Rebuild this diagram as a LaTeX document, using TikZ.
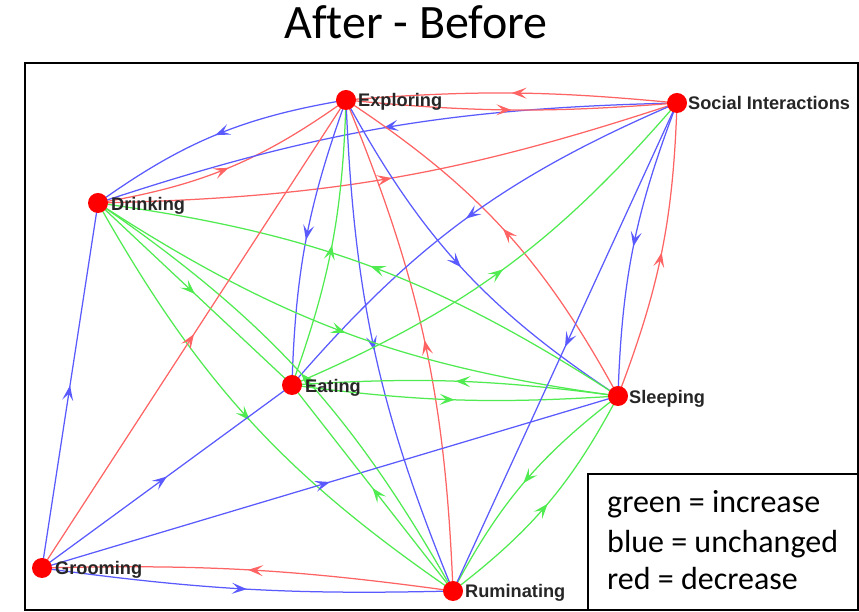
\documentclass[tikz,border=0pt]{standalone}
\usepackage{fontspec}
\setmainfont{Carlito}[Ligatures=NoCommon]
\newfontfamily\labfont{Liberation Sans}
\usetikzlibrary{arrows.meta,decorations.markings,backgrounds}
\definecolor{er}{RGB}{255,100,100}
\definecolor{eb}{RGB}{90,90,255}
\definecolor{eg}{RGB}{80,235,80}
\tikzset{
  edge/.style={line width=1.25pt, postaction={decorate},
    decoration={markings, mark=at position 0.5 with {\arrow{Stealth[length=15pt,width=11pt,inset=6.5pt]}}}},
  R/.style={edge, er},
  B/.style={edge, eb},
  G/.style={edge, eg},
  dot/.style={circle, fill=red, draw=none, inner sep=0pt, minimum size=20pt},
  lbl/.style={font=\labfont\bfseries\fontsize{18.2}{20}\selectfont, text=black!85, anchor=base west, inner sep=0pt},
  leg/.style={font=\fontsize{32}{38}\selectfont, anchor=base west, inner sep=0pt}
}
\begin{document}
\begin{tikzpicture}[x=1pt,y=1pt]
\useasboundingbox (0,0) rectangle (859,612);
\node[font=\fontsize{48}{56}\selectfont, anchor=base, inner sep=0pt] (title) at (416,573) {After - Before};
\draw[line width=1.3pt] (25,2) rectangle (858,549);

\node[dot] (ex) at (346,512) {};
\node[dot] (dr) at (98,409) {};
\node[dot] (si) at (677,509) {};
\node[dot] (ea) at (292,227) {};
\node[dot] (sl) at (618,216) {};
\node[dot] (gr) at (42,44) {};
\node[dot] (ru) at (453,21) {};

\node[lbl] (exl) at (358,505) {Exploring};
\node[lbl] (drl) at (111,401.5) {Drinking};
\node[lbl] (sil) at (688,502) {Social Interactions};
\node[lbl] (eal) at (305,219.5) {Eating};
\node[lbl] (sll) at (629,208) {Sleeping};
\node[lbl] (grl) at (55,37) {Grooming};
\node[lbl] (rul) at (465,14) {Ruminating};

\begin{pgfonlayer}{background}
% bidirectional pairs
\draw[B] (ex.center) to[bend right=13] (dr.center);
\draw[R] (dr.center) to[bend right=13] (ex.center);
\draw[B] (si.center) to[bend right=8.5] (dr.center);
\draw[R] (dr.center) to[bend right=8.5] (si.center);
\draw[R] (si.center) to[bend right=5] (ex.center);
\draw[R] (ex.center) to[bend right=5] (si.center);
\draw[B] (ex.center) to[bend right=9] (ea.center);
\draw[G] (ea.center) to[bend right=9] (ex.center);
\draw[B] (ex.center) to[bend right=10] (ru.center);
\draw[R] (ru.center) to[bend right=10] (ex.center);
\draw[B] (ex.center) to[bend right=14] (sl.center);
\draw[R] (sl.center) to[bend right=14] (ex.center);
\draw[B] (si.center) to[bend right=9.5] (sl.center);
\draw[R] (sl.center) to[bend right=9.5] (si.center);
\draw[B] (si.center) to[bend right=13] (ea.center);
\draw[G] (ea.center) to[bend right=13] (si.center);
\draw[B] (gr.center) to[bend right=4.6] (ru.center);
\draw[R] (ru.center) to[bend right=4.6] (gr.center);
\draw[G] (dr.center) to[bend right=13] (ru.center);
\draw[G] (ru.center) to[bend right=13] (dr.center);
\draw[G] (dr.center) to[bend right=12.6] (sl.center);
\draw[G] (sl.center) to[bend right=12.6] (dr.center);
\draw[G] (sl.center) to[bend right=5.6] (ea.center);
\draw[G] (ea.center) to[bend right=5.6] (sl.center);
\draw[G] (sl.center) to[bend right=12.3] (ru.center);
\draw[G] (ru.center) to[bend right=12.3] (sl.center);
% single edges
\draw[B] (si.center) -- (ru.center);
\draw[B] (gr.center) -- (dr.center);
\draw[R] (gr.center) -- (ex.center);
\draw[B] (gr.center) -- (ea.center);
\draw[B] (gr.center) -- (sl.center);
\draw[G] (dr.center) -- (ea.center);
\draw[G] (ru.center) -- (ea.center);
\end{pgfonlayer}

\draw[line width=1.2pt, fill=white] (588,2) rectangle (858,138);
\node[leg] (l1) at (607,99) {green = increase};
\node[leg] (l2) at (607,59) {blue = unchanged};
\node[leg] (l3) at (607,22) {red = decrease};
\end{tikzpicture}
\end{document}
